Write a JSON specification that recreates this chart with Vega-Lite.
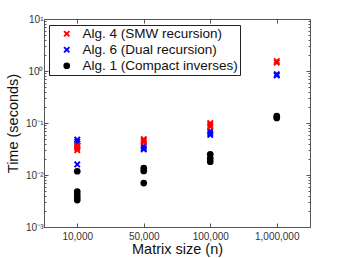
{
  "$schema": "https://vega.github.io/schema/vega-lite/v6.json",
  "width": 266,
  "height": 208,
  "autosize": {"type": "none"},
  "padding": {"left": 44, "top": 19, "right": 33, "bottom": 31},
  "config": {
    "font": "Liberation Sans",
    "view": {"stroke": "#555", "strokeWidth": 1},
    "axis": {"domain": false, "grid": false, "tickColor": "#555", "labelColor": "#333", "labelFontSize": 10, "titleFontSize": 14.5, "titleFontWeight": "normal", "titleColor": "#111"}
  },
  "data": {
    "values": [
      {"n": "10,000", "alg": "Alg. 4 (SMW recursion)", "time": 0.037},
      {"n": "10,000", "alg": "Alg. 4 (SMW recursion)", "time": 0.035},
      {"n": "10,000", "alg": "Alg. 4 (SMW recursion)", "time": 0.033},
      {"n": "10,000", "alg": "Alg. 4 (SMW recursion)", "time": 0.030},
      {"n": "10,000", "alg": "Alg. 6 (Dual recursion)", "time": 0.048},
      {"n": "10,000", "alg": "Alg. 6 (Dual recursion)", "time": 0.044},
      {"n": "10,000", "alg": "Alg. 6 (Dual recursion)", "time": 0.040},
      {"n": "10,000", "alg": "Alg. 6 (Dual recursion)", "time": 0.037},
      {"n": "10,000", "alg": "Alg. 6 (Dual recursion)", "time": 0.016},
      {"n": "10,000", "alg": "Alg. 1 (Compact inverses)", "time": 0.0118},
      {"n": "10,000", "alg": "Alg. 1 (Compact inverses)", "time": 0.0048},
      {"n": "10,000", "alg": "Alg. 1 (Compact inverses)", "time": 0.0042},
      {"n": "10,000", "alg": "Alg. 1 (Compact inverses)", "time": 0.0037},
      {"n": "10,000", "alg": "Alg. 1 (Compact inverses)", "time": 0.0033},
      {"n": "50,000", "alg": "Alg. 4 (SMW recursion)", "time": 0.049},
      {"n": "50,000", "alg": "Alg. 4 (SMW recursion)", "time": 0.046},
      {"n": "50,000", "alg": "Alg. 4 (SMW recursion)", "time": 0.043},
      {"n": "50,000", "alg": "Alg. 6 (Dual recursion)", "time": 0.036},
      {"n": "50,000", "alg": "Alg. 6 (Dual recursion)", "time": 0.033},
      {"n": "50,000", "alg": "Alg. 6 (Dual recursion)", "time": 0.031},
      {"n": "50,000", "alg": "Alg. 1 (Compact inverses)", "time": 0.0135},
      {"n": "50,000", "alg": "Alg. 1 (Compact inverses)", "time": 0.0120},
      {"n": "50,000", "alg": "Alg. 1 (Compact inverses)", "time": 0.0070},
      {"n": "100,000", "alg": "Alg. 4 (SMW recursion)", "time": 0.100},
      {"n": "100,000", "alg": "Alg. 4 (SMW recursion)", "time": 0.092},
      {"n": "100,000", "alg": "Alg. 4 (SMW recursion)", "time": 0.085},
      {"n": "100,000", "alg": "Alg. 6 (Dual recursion)", "time": 0.070},
      {"n": "100,000", "alg": "Alg. 6 (Dual recursion)", "time": 0.064},
      {"n": "100,000", "alg": "Alg. 6 (Dual recursion)", "time": 0.059},
      {"n": "100,000", "alg": "Alg. 1 (Compact inverses)", "time": 0.025},
      {"n": "100,000", "alg": "Alg. 1 (Compact inverses)", "time": 0.021},
      {"n": "100,000", "alg": "Alg. 1 (Compact inverses)", "time": 0.018},
      {"n": "1,000,000", "alg": "Alg. 4 (SMW recursion)", "time": 1.55},
      {"n": "1,000,000", "alg": "Alg. 4 (SMW recursion)", "time": 1.45},
      {"n": "1,000,000", "alg": "Alg. 6 (Dual recursion)", "time": 0.87},
      {"n": "1,000,000", "alg": "Alg. 6 (Dual recursion)", "time": 0.82},
      {"n": "1,000,000", "alg": "Alg. 1 (Compact inverses)", "time": 0.135},
      {"n": "1,000,000", "alg": "Alg. 1 (Compact inverses)", "time": 0.125}
    ]
  },
  "layer": [
    {
      "mark": {"type": "point", "filled": true, "opacity": 1},
      "encoding": {
        "x": {
          "field": "n", "type": "ordinal",
          "sort": ["10,000", "50,000", "100,000", "1,000,000"],
          "scale": {"type": "point", "padding": 0.5},
          "axis": {"title": "Matrix size (n)", "labelAngle": 0, "tickSize": -4, "labelPadding": 8, "titlePadding": 1}
        },
        "y": {
          "field": "time", "type": "quantitative",
          "scale": {"type": "log", "domain": [0.001, 10], "nice": false},
          "axis": {
            "title": "Time (seconds)",
            "values": [0.001,0.002,0.003,0.004,0.005,0.006,0.007,0.008,0.009,0.01,0.02,0.03,0.04,0.05,0.06,0.07,0.08,0.09,0.1,0.2,0.3,0.4,0.5,0.6,0.7,0.8,0.9,1,2,3,4,5,6,7,8,9,10],
            "labelExpr": "datum.value==0.001?'10⁻³':datum.value==0.01?'10⁻²':datum.value==0.1?'10⁻¹':datum.value==1?'10⁰':datum.value==10?'10¹':''",
            "tickSize": {"condition": {"test": "indexof([0.001,0.01,0.1,1,10], datum.value) >= 0", "value": -4}, "value": -2},
            "labelPadding": 5,
            "titlePadding": 5
          }
        },
        "color": {
          "field": "alg", "type": "nominal",
          "scale": {"domain": ["Alg. 4 (SMW recursion)", "Alg. 6 (Dual recursion)", "Alg. 1 (Compact inverses)"], "range": ["#ff0000", "#0000ff", "#000000"]},
          "legend": {"title": null, "orient": "none", "legendX": 5, "legendY": 6, "strokeColor": "#222", "fillColor": "white", "padding": 2, "labelFontSize": 13.5, "labelLimit": 400, "labelColor": "#111", "rowPadding": 1, "symbolOffset": 9, "labelOffset": 9}
        },
        "shape": {
          "field": "alg", "type": "nominal",
          "scale": {"domain": ["Alg. 4 (SMW recursion)", "Alg. 6 (Dual recursion)", "Alg. 1 (Compact inverses)"], "range": ["M-1,-0.6L-0.6,-1L0,-0.4L0.6,-1L1,-0.6L0.4,0L1,0.6L0.6,1L0,0.4L-0.6,1L-1,0.6L-0.4,0Z", "M-1,-0.6L-0.6,-1L0,-0.4L0.6,-1L1,-0.6L0.4,0L1,0.6L0.6,1L0,0.4L-0.6,1L-1,0.6L-0.4,0Z", "circle"]},
          "legend": null
        },
        "size": {
          "field": "alg", "type": "nominal",
          "scale": {"domain": ["Alg. 4 (SMW recursion)", "Alg. 6 (Dual recursion)", "Alg. 1 (Compact inverses)"], "range": [45, 45, 50]},
          "legend": null
        },
        "order": {"field": "alg", "sort": "descending"}
      }
    },
    {
      "mark": {"type": "point", "opacity": 0},
      "encoding": {
        "x": {
          "field": "n", "type": "ordinal",
          "sort": ["10,000", "50,000", "100,000", "1,000,000"],
          "axis": {"orient": "top", "labels": false, "title": null, "tickSize": -4}
        },
        "y": {
          "field": "time", "type": "quantitative",
          "axis": {
            "orient": "right", "labels": false, "title": null,
            "values": [0.001,0.002,0.003,0.004,0.005,0.006,0.007,0.008,0.009,0.01,0.02,0.03,0.04,0.05,0.06,0.07,0.08,0.09,0.1,0.2,0.3,0.4,0.5,0.6,0.7,0.8,0.9,1,2,3,4,5,6,7,8,9,10],
            "tickSize": {"condition": {"test": "indexof([0.001,0.01,0.1,1,10], datum.value) >= 0", "value": -4}, "value": -2}
          }
        }
      }
    }
  ],
  "resolve": {"axis": {"x": "independent", "y": "independent"}}
}
